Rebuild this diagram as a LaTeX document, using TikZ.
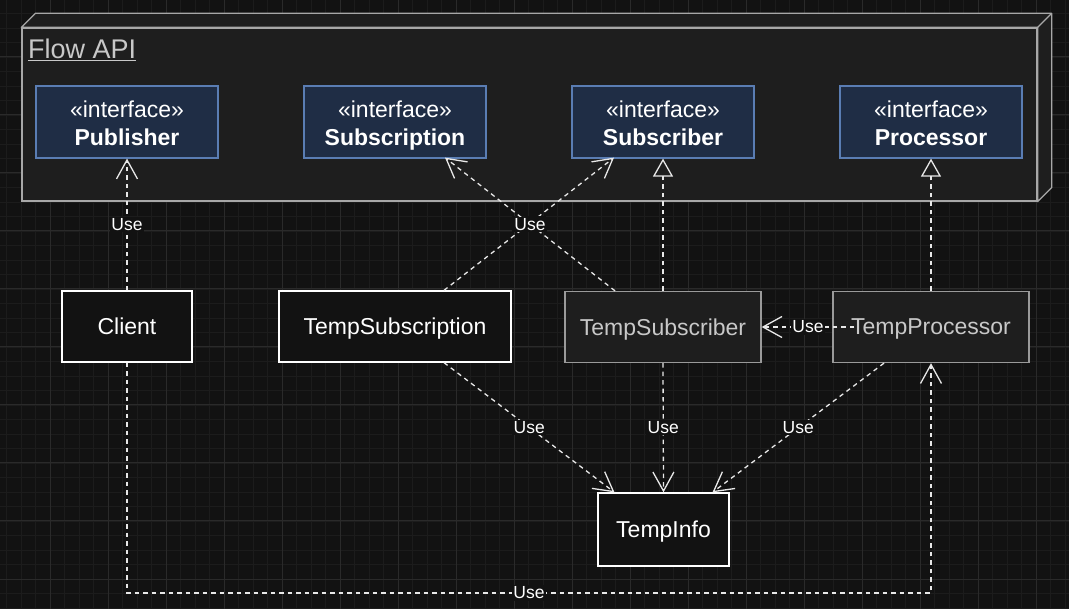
\documentclass[tikz,border=0pt]{standalone}
\usepackage{fontspec}
\setmainfont{Liberation Sans}
\usetikzlibrary{arrows.meta,calc}
\definecolor{bgc}{HTML}{121212}
\definecolor{gridminor}{HTML}{1C1C1C}
\definecolor{gridmajor}{HTML}{2A2A2A}
\definecolor{pkgfill}{HTML}{1E1E1E}
\definecolor{pkgline}{HTML}{A8A8A8}
\definecolor{ifill}{HTML}{1F2D45}
\definecolor{iline}{HTML}{5A7DB3}
\definecolor{linec}{HTML}{E8E8E8}
\definecolor{graytext}{HTML}{C8C8C8}
\definecolor{grayline}{HTML}{9A9A9A}
\begin{document}
\begin{tikzpicture}[x=1pt,y=-1pt,
  iface/.style={draw=iline,fill=ifill,line width=1.2pt,minimum width=182pt,minimum height=72pt,
    inner sep=0pt},
  itext/.style={text=white,align=center,inner sep=0pt,yshift=-5pt,font=\fontsize{23}{28}\selectfont},
  cls/.style={draw=white,fill=bgc,line width=1.3pt,minimum height=71pt,text=white,
    inner sep=0pt,text depth=0pt,font=\fontsize{23}{27}\selectfont},
  gcls/.style={draw=grayline,fill=pkgfill,line width=1.3pt,minimum height=71pt,text=graytext,
    inner sep=0pt,text depth=0pt,font=\fontsize{23}{27}\selectfont},
  dep/.style={draw=linec,line width=1.3pt,dash pattern=on 4.5pt off 4pt,
    -{Straight Barb[length=19pt,width=21pt]}},
  real/.style={draw=linec,line width=1.3pt,dash pattern=on 4.5pt off 4pt,
    -{Triangle[length=18pt,width=20pt,fill=pkgfill]}},
  lbl/.style={fill=bgc,text=white,inner sep=1.5pt,font=\fontsize{17.5}{19}\selectfont}
]
\useasboundingbox (0,0) rectangle (1069,609);
\fill[bgc] (0,0) rectangle (1069,609);
\foreach \i in {0,...,74} {
  \draw[gridminor,line width=0.8pt] (-8+14.5*\i,0) -- (-8+14.5*\i,609);
}
\foreach \i in {0,...,43} {
  \draw[gridminor,line width=0.8pt] (0,-1+14.5*\i) -- (1069,-1+14.5*\i);
}
\foreach \i in {0,...,19} {
  \draw[gridmajor,line width=1pt] (-8+58*\i,0) -- (-8+58*\i,609);
}
\foreach \i in {0,...,11} {
  \draw[gridmajor,line width=1pt] (0,-1+58*\i) -- (1069,-1+58*\i);
}
% package
\node[draw=pkgline,fill=pkgfill,line width=1.3pt,minimum width=1015pt,minimum height=173pt,inner sep=0pt]
  (pkg) at (529.5,114.5) {};
\draw[pkgline,fill=pkgfill,line width=1.3pt,line join=round]
  (pkg.north west) -- ++(14,-14) -- ($(pkg.north east)+(14,-14)$) -- ($(pkg.south east)+(14,-14)$)
  -- (pkg.south east) -- (pkg.north east) -- cycle;
\draw[pkgline,line width=1.3pt] (pkg.north east) -- ++(14,-14);
\node[anchor=base west,text=graytext,inner sep=0pt,font=\fontsize{27}{30}\selectfont]
  (title) at (28,59) {\underline{Flow API}};
% interfaces
\node[iface] (pub) at (127,122) {};
\node[itext] (pubt) at (pub.center) {«interface»\\\textbf{Publisher}\strut};
\node[iface] (subn) at (395,122) {};
\node[itext] (subnt) at (subn.center) {«interface»\\\textbf{Subscription}\strut};
\node[iface] (sub) at (663,122) {};
\node[itext] (subt) at (sub.center) {«interface»\\\textbf{Subscriber}\strut};
\node[iface] (proc) at (931,122) {};
\node[itext] (proct) at (proc.center) {«interface»\\\textbf{Processor}\strut};
% classes
\node[cls,minimum width=130pt] (cl) at (127,326.5) {Client};
\node[cls,minimum width=232pt] (tsn) at (395,326.5) {TempSubscription};
\node[gcls,minimum width=196pt] (tsr) at (663,327) {TempSubscriber};
\node[gcls,minimum width=196pt] (tp) at (931,327) {TempProcessor};
\node[cls,minimum width=131pt,minimum height=73pt] (ti) at (663.5,529.5) {TempInfo};
% connectors
\draw[dep] (cl.north) -- node[lbl]{Use} (pub.south);
\draw[dep] ($(tsn.north)+(49,0)$) -- node[lbl]{Use} ($(sub.south)+(-49,-1)$);
\draw[dep] ($(tsr.north)+(-48,0)$) -- node[lbl]{Use} ($(subn.south)+(50,-1)$);
\draw[real] (tsr.north) -- (sub.south);
\draw[real] (tp.north) -- (proc.south);
\coordinate (tpl) at ($(tp.west)+(22,0)$);
\draw[dep] (tpl) -- node[lbl]{Use} (tsr.east);
\draw[dep] ($(tsn.south)+(49,0)$) -- node[lbl]{Use} ($(ti.north)+(-49,0)$);
\draw[dep] (tsr.south) -- node[lbl]{Use} (ti.north);
\draw[dep] ($(tp.south)+(-47,0)$) -- node[lbl]{Use} ($(ti.north)+(49,0)$);
\coordinate (c1) at (127,593);
\coordinate (c2) at (931,593);
\draw[dep] (cl.south) -- (c1) -- node[lbl]{Use} (c2) -- (tp.south);
\end{tikzpicture}
\end{document}
